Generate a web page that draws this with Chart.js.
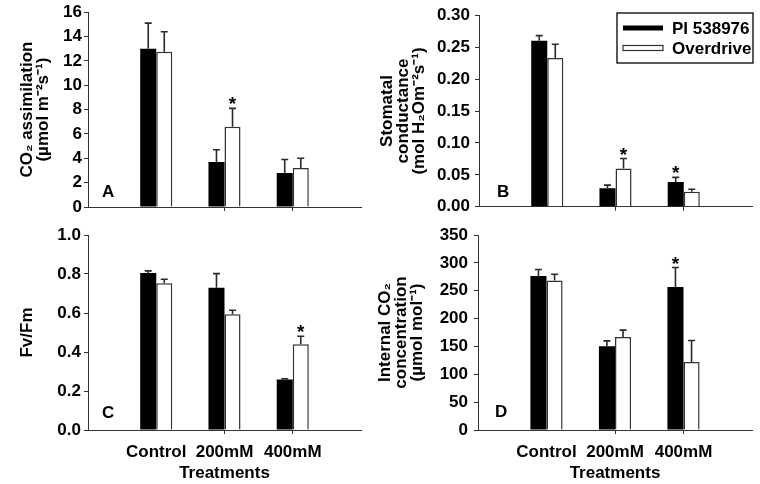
<!DOCTYPE html>
<html>
<head>
<meta charset="utf-8">
<script src="https://cdn.jsdelivr.net/npm/chart.js@4.4.0/dist/chart.umd.min.js"></script>
<style>
  body { margin: 0; background: #fff; width: 760px; height: 484px; position: relative; overflow: hidden; }
  .panel { position: absolute; }
</style>
</head>
<body>
<div class="panel" style="left:0;top:0;width:380px;height:222px"><canvas id="chartA"></canvas></div>
<div class="panel" style="left:370px;top:0;width:390px;height:222px"><canvas id="chartB"></canvas></div>
<div class="panel" style="left:0;top:212px;width:380px;height:274px"><canvas id="chartC"></canvas></div>
<div class="panel" style="left:370px;top:212px;width:390px;height:274px"><canvas id="chartD"></canvas></div>
<script>
const treatments = ['Control', '200mM', '400mM'];
const cultivars = ['PI 538976', 'Overdrive'];

// A - CO2 assimilation
const assimPI = [13.0, 3.7, 2.8];
const assimPIse = [2.1, 1.0, 1.1];
const assimOD = [12.75, 6.6, 3.2];
const assimODse = [1.65, 1.5, 0.8];
const assimPIsig = [0, 0, 0];
const assimODsig = [0, 1, 0];

// B - stomatal conductance
const gsPI = [0.26, 0.029, 0.039];
const gsPIse = [0.008, 0.005, 0.007];
const gsOD = [0.233, 0.060, 0.0235];
const gsODse = [0.0215, 0.0156, 0.004];
const gsPIsig = [0, 0, 1];
const gsODsig = [0, 1, 0];

// C - Fv/Fm
const fvfmPI = [0.805, 0.729, 0.259];
const fvfmPIse = [0.011, 0.073, 0.004];
const fvfmOD = [0.753, 0.594, 0.44];
const fvfmODse = [0.02, 0.02, 0.041];
const fvfmPIsig = [0, 0, 0];
const fvfmODsig = [0, 0, 1];

// D - internal CO2
const ciPI = [276.6, 150.5, 256.8];
const ciPIse = [11.4, 9.5, 34.8];
const ciOD = [268.2, 166.7, 122];
const ciODse = [11.4, 12.5, 38.7];
const ciPIsig = [0, 0, 1];
const ciODsig = [0, 0, 0];

const FONT = "'Liberation Sans', Arial, sans-serif";
Chart.defaults.font.family = FONT;
Chart.defaults.font.weight = 'bold';
Chart.defaults.font.size = 17;
Chart.defaults.color = '#000';

// empty slots at both ends so the groups sit like the original
const pad = a => [null, ...a, null];

const errorBars = {
  id: 'errorBars',
  afterDatasetsDraw(chart, args, opts) {
    const { ctx, chartArea } = chart;
    const y = chart.scales.y;
    ctx.save();
    chart.data.datasets.forEach((ds, i) => {
      chart.getDatasetMeta(i).data.forEach((bar, j) => {
        const v = ds.data[j];
        if (v == null) return;
        const top = y.getPixelForValue(v + ds.errors[j]);
        ctx.strokeStyle = '#2a2a2a';
        ctx.lineWidth = 1.6;
        ctx.beginPath();
        ctx.moveTo(bar.x, bar.y);
        ctx.lineTo(bar.x, top);
        ctx.moveTo(bar.x - 3.5, top);
        ctx.lineTo(bar.x + 3.5, top);
        ctx.stroke();
        if (ds.stars[j]) {
          ctx.fillStyle = '#000';
          ctx.font = 'bold 19px ' + FONT;
          ctx.textAlign = 'center';
          ctx.textBaseline = 'alphabetic';
          ctx.fillText('*', bar.x, top + 2);
        }
      });
    });
    ctx.fillStyle = '#000';
    ctx.font = 'bold 17px ' + FONT;
    ctx.textAlign = 'left';
    ctx.textBaseline = 'alphabetic';
    ctx.fillText(opts.letter, chartArea.left + opts.dx, chartArea.bottom - opts.dy);
    ctx.restore();
  }
};

const boxLegend = {
  id: 'boxLegend',
  afterDraw(chart, args, opts) {
    if (!opts.show) return;
    const { ctx } = chart;
    ctx.save();
    ctx.strokeStyle = '#000';
    ctx.lineWidth = 1.3;
    ctx.strokeRect(opts.x, opts.y, opts.w, opts.h);
    ctx.font = 'bold 17px ' + FONT;
    ctx.textBaseline = 'middle';
    ctx.textAlign = 'left';
    chart.data.datasets.forEach((ds, i) => {
      const cy = opts.y + 15 + i * 20;
      ctx.fillStyle = ds.backgroundColor;
      ctx.fillRect(opts.x + 6, cy - 2.5, 40, 5);
      if (ds.borderWidth) {
        ctx.strokeStyle = ds.borderColor;
        ctx.lineWidth = 1.2;
        ctx.strokeRect(opts.x + 6, cy - 2.5, 40, 5);
      }
      ctx.fillStyle = '#000';
      ctx.fillText(ds.label, opts.x + 55, cy + 1);
    });
    ctx.restore();
  }
};

function panel(id, p) {
  return new Chart(document.getElementById(id), {
    type: 'bar',
    data: {
      labels: pad(treatments),
      datasets: [
        { label: cultivars[0], data: pad(p.pi), errors: pad(p.piSe), stars: pad(p.piSig),
          backgroundColor: '#000', borderColor: '#000', borderWidth: 0 },
        { label: cultivars[1], data: pad(p.od), errors: pad(p.odSe), stars: pad(p.odSig),
          backgroundColor: '#fff', borderColor: '#333', borderWidth: 1.5 }
      ]
    },
    plugins: [errorBars, boxLegend],
    options: {
      responsive: true,
      maintainAspectRatio: false,
      animation: false,
      categoryPercentage: 0.47,
      barPercentage: 1,
      layout: { padding: { left: 0, top: p.padTop, right: p.padRight, bottom: 0 } },
      plugins: {
        legend: { display: false },
        tooltip: { enabled: false },
        errorBars: { letter: p.letter, dx: p.letterDx, dy: p.letterDy },
        boxLegend: p.legend || { show: false }
      },
      scales: {
        x: {
          offset: false,
          grid: {
            offset: false, drawOnChartArea: false, drawTicks: true, tickLength: 4,
            tickColor: c => (c.index === 0 || c.index === 4) ? 'rgba(0,0,0,0)' : '#333'
          },
          border: { color: '#333', width: 1 },
          ticks: { display: p.xLabels, padding: 8, maxRotation: 0, autoSkip: false },
          title: { display: p.xLabels, text: 'Treatments', padding: { top: 0, bottom: 2 } },
          afterFit: s => { s.height = p.xHeight; }
        },
        y: {
          min: 0,
          max: p.max,
          grid: { drawOnChartArea: false, drawTicks: true, tickLength: 4, tickColor: '#333' },
          border: { color: '#333', width: 1 },
          ticks: {
            stepSize: p.step,
            padding: p.tickPad,
            callback: v => v.toFixed(p.dec)
          },
          title: {
            display: true,
            text: p.title,
            font: { size: 17, weight: 'bold', lineHeight: '16px' },
            padding: { top: p.titlePad, bottom: 0 }
          },
          afterFit: s => { s.width = p.yWidth; }
        }
      }
    }
  });
}

panel('chartA', {
  pi: assimPI, piSe: assimPIse, piSig: assimPIsig,
  od: assimOD, odSe: assimODse, odSig: assimODsig,
  max: 16, step: 2, dec: 0, tickPad: 2,
  title: ['CO\u2082 assimilation', '(\u00b5mol m\u207b\u00b2s\u207b\u00b9)'],
  titlePad: 19, yWidth: 88, padTop: 11, padRight: 19,
  xLabels: false, xHeight: 15, letter: 'A', letterDx: 14, letterDy: 10
});

panel('chartB', {
  pi: gsPI, piSe: gsPIse, piSig: gsPIsig,
  od: gsOD, odSe: gsODse, odSig: gsODsig,
  max: 0.30, step: 0.05, dec: 2, tickPad: 5,
  title: ['Stomatal', 'conductance', '(mol H\u2082Om\u207b\u00b2s\u207b\u00b9)'],
  titlePad: 9, yWidth: 109, padTop: 11, padRight: 8,
  xLabels: false, xHeight: 15, letter: 'B', letterDx: 18, letterDy: 10,
  legend: { show: true, x: 247, y: 13, w: 136, h: 50 }
});

panel('chartC', {
  pi: fvfmPI, piSe: fvfmPIse, piSig: fvfmPIsig,
  od: fvfmOD, odSe: fvfmODse, odSig: fvfmODsig,
  max: 1.0, step: 0.2, dec: 1, tickPad: 3,
  title: 'Fv/Fm',
  titlePad: 19, yWidth: 88, padTop: 23, padRight: 19,
  xLabels: true, xHeight: 56, letter: 'C', letterDx: 14, letterDy: 12
});

panel('chartD', {
  pi: ciPI, piSe: ciPIse, piSig: ciPIsig,
  od: ciOD, odSe: ciODse, odSig: ciODsig,
  max: 350, step: 50, dec: 0, tickPad: 6,
  title: ['Internal CO\u2082', 'concentration', '(\u00b5mol mol\u207b\u00b9)'],
  titlePad: 7, yWidth: 108, padTop: 23, padRight: 8,
  xLabels: true, xHeight: 56, letter: 'D', letterDx: 17, letterDy: 13
});
</script>
</body>
</html>
